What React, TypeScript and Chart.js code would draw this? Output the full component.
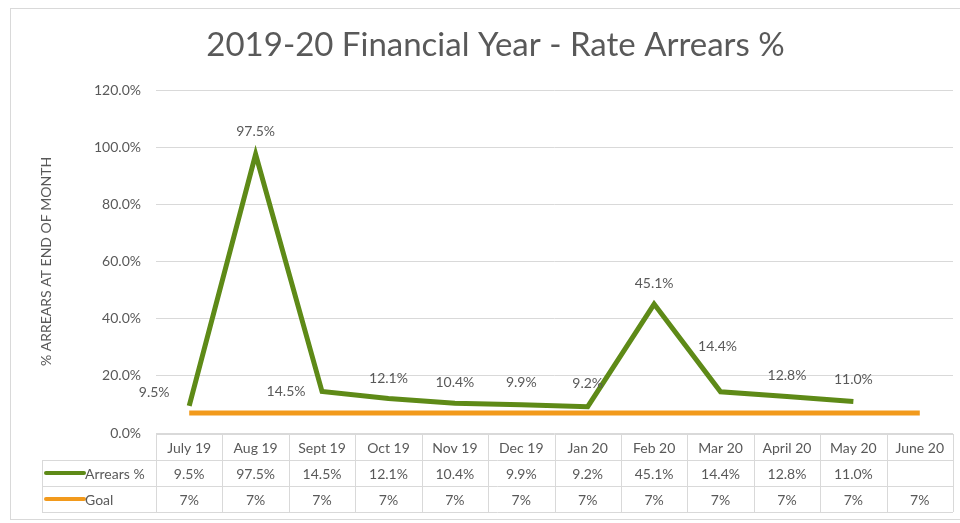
import React, { useEffect, useRef } from "react";
import { Chart, registerables } from "chart.js";

Chart.register(...registerables);

const months = ["July 19", "Aug 19", "Sept 19", "Oct 19", "Nov 19", "Dec 19", "Jan 20", "Feb 20", "Mar 20", "April 20", "May 20", "June 20"];
const arrears: (number | null)[] = [9.5, 97.5, 14.5, 12.1, 10.4, 9.9, 9.2, 45.1, 14.4, 12.8, 11.0, null];
const goal: number[] = [7, 7, 7, 7, 7, 7, 7, 7, 7, 7, 7, 7];
const yTicks: number[] = [0, 20, 40, 60, 80, 100, 120];

const seriesNames = ["Arrears %", "Goal"];
const GREEN = "#5E8A17";
const ORANGE = "#F29A1C";
const TEXT = "#595959";
const GRID = "#D9D9D9";
const FONT = "Lato, 'Liberation Sans', sans-serif";

// label offsets (style) relative to each point [dx, dy]
const labelOffsets: [number, number][] = [
  [-35, -13], [0, -23], [-36, 0], [0, -20], [0, -21], [0, -22], [0, -23], [0, -21], [-3, -45], [0, -21], [0, -22], [0, -22],
];

const fmt1 = (v: number) => v.toFixed(1) + "%";
const fmt0 = (v: number) => v.toFixed(0) + "%";

const labelsPlugin = {
  id: "pointLabels",
  afterDatasetsDraw(chart: any) {
    const ctx = chart.ctx;
    const meta = chart.getDatasetMeta(0);
    ctx.save();
    ctx.font = `14px ${FONT}`;
    ctx.fillStyle = TEXT;
    ctx.textAlign = "center";
    ctx.textBaseline = "middle";
    meta.data.forEach((pt: any, i: number) => {
      const v = arrears[i];
      if (v == null) return;
      const [dx, dy] = labelOffsets[i];
      ctx.fillText(fmt1(v), pt.x + dx, pt.y + dy);
    });
    ctx.restore();
  },
};

const tablePlugin = {
  id: "dataTable",
  afterDraw(chart: any) {
    const ctx = chart.ctx;
    const x = chart.scales.x;
    const area = chart.chartArea;
    const colW = (area.right - area.left) / months.length;
    const rows = [area.bottom + 1, area.bottom + 27, area.bottom + 53, area.bottom + 79];
    const legendLeft = 42;
    ctx.save();
    ctx.strokeStyle = GRID;
    ctx.lineWidth = 1;
    ctx.beginPath();
    ctx.moveTo(area.left, rows[0] + 0.5);
    ctx.lineTo(area.right, rows[0] + 0.5);
    for (let r = 1; r < rows.length; r++) {
      ctx.moveTo(legendLeft, rows[r] + 0.5);
      ctx.lineTo(area.right, rows[r] + 0.5);
    }
    for (let i = 0; i <= months.length; i++) {
      const xx = Math.round(area.left + i * colW) + 0.5;
      ctx.moveTo(xx, rows[0]);
      ctx.lineTo(xx, rows[3]);
    }
    ctx.moveTo(legendLeft + 0.5, rows[1]);
    ctx.lineTo(legendLeft + 0.5, rows[3]);
    ctx.stroke();

    ctx.font = `14px ${FONT}`;
    ctx.fillStyle = TEXT;
    ctx.textAlign = "center";
    ctx.textBaseline = "middle";
    months.forEach((m, i) => {
      const cx = x.getPixelForValue(i);
      ctx.fillText(m, cx, (rows[0] + rows[1]) / 2 + 1);
      const a = arrears[i];
      if (a != null) ctx.fillText(fmt1(a), cx, (rows[1] + rows[2]) / 2 + 1);
      ctx.fillText(fmt0(goal[i]), cx, (rows[2] + rows[3]) / 2 + 1);
    });

    const keys = [GREEN, ORANGE];
    keys.forEach((c, k) => {
      const cy = (rows[k + 1] + rows[k + 2]) / 2;
      ctx.strokeStyle = c;
      ctx.lineWidth = 4;
      ctx.lineCap = "round";
      ctx.beginPath();
      ctx.moveTo(46, cy);
      ctx.lineTo(84, cy);
      ctx.stroke();
      ctx.textAlign = "left";
      ctx.fillText(seriesNames[k], 85, cy + 1);
    });
    ctx.restore();
  },
};

const framePlugin = {
  id: "frame",
  beforeDraw(chart: any) {
    const ctx = chart.ctx;
    ctx.save();
    ctx.fillStyle = "#ffffff";
    ctx.fillRect(0, 0, chart.width, chart.height);
    ctx.strokeStyle = GRID;
    ctx.lineWidth = 1;
    ctx.strokeRect(10.5, 8.5, chart.width + 10, 511);
    ctx.restore();
  },
};

export default function App() {
  const ref = useRef<HTMLCanvasElement | null>(null);
  useEffect(() => {
    document.body.style.margin = "0";
    const canvas = ref.current!;
    const chart = new Chart(canvas, {
      type: "line",
      data: {
        labels: months,
        datasets: [
          {
            label: seriesNames[0],
            data: arrears,
            borderColor: GREEN,
            backgroundColor: GREEN,
            borderWidth: 5,
            pointRadius: 0,
            tension: 0,
            spanGaps: false,
          },
          {
            label: seriesNames[1],
            data: goal,
            borderColor: ORANGE,
            backgroundColor: ORANGE,
            borderWidth: 5,
            pointRadius: 0,
            tension: 0,
          },
        ],
      },
      options: {
        animation: false,
        responsive: false,
        devicePixelRatio: 1,
        layout: { padding: { left: 38, right: 7, top: 0, bottom: 90 } },
        plugins: {
          legend: { display: false },
          tooltip: { enabled: false },
          title: {
            display: true,
            text: "2019-20 Financial Year - Rate Arrears %",
            color: TEXT,
            font: { family: FONT, size: 33, weight: "normal", lineHeight: 1.2 },
            padding: { top: 26, bottom: 24.4 },
          },
        },
        scales: {
          x: {
            type: "category",
            offset: true,
            display: false,
          },
          y: {
            min: 0,
            max: 120,
            afterBuildTicks(scale: any) {
              scale.ticks = yTicks.map((v) => ({ value: v }));
            },
            afterFit(scale: any) {
              scale.width = 118;
            },
            border: { display: false },
            grid: { color: GRID, lineWidth: 1, drawTicks: false },
            ticks: {
              color: TEXT,
              padding: 15,
              font: { family: FONT, size: 14 },
              callback: (v: any) => Number(v).toFixed(1) + "%",
            },
            title: {
              display: true,
              text: "% ARREARS AT END OF MONTH",
              color: TEXT,
              font: { family: FONT, size: 14 },
              padding: { top: 0, bottom: 0 },
            },
          },
        },
      },
      plugins: [framePlugin, labelsPlugin, tablePlugin],
    });
    return () => chart.destroy();
  }, []);
  return (
    <div style={{ width: 960, height: 523 }}>
      <canvas ref={ref} width={960} height={523} style={{ display: "block", width: 960, height: 523 }} />
    </div>
  );
}
